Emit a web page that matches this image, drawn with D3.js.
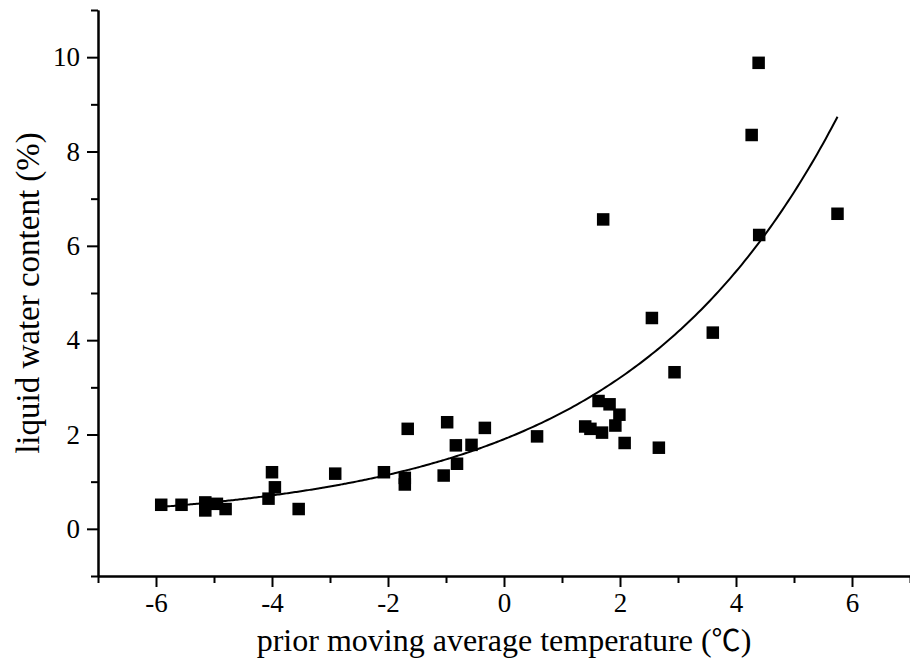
<!DOCTYPE html>
<html>
<head>
<meta charset="utf-8">
<script src="https://cdn.jsdelivr.net/npm/d3@7"></script>
<style>
  body { margin: 0; background: #fff; }
  svg text { font-family: "Liberation Serif", "Times New Roman", serif; fill: #000; }
</style>
</head>
<body>
<svg id="chart"></svg>
<script>
// measured points
var temps = [-5.91, -5.56, -5.15, -5.15, -4.95, -4.80, -4.00, -3.95, -4.06, -3.54,
  -2.91, -2.07, -1.71, -1.71, -1.66, -0.98, -0.83, -0.81, -1.04, -0.56, -0.33,
  0.57, 1.40, 1.49, 1.63, 1.82, 1.99, 1.92, 1.69, 2.08, 2.67,
  1.71, 2.55, 3.60, 2.94, 4.27, 4.39, 5.75, 4.40];
var lwc = [0.51, 0.51, 0.56, 0.39, 0.53, 0.42, 1.20, 0.88, 0.64, 0.42,
  1.17, 1.20, 1.08, 0.94, 2.12, 2.26, 1.77, 1.38, 1.13, 1.78, 2.14,
  1.96, 2.17, 2.12, 2.71, 2.64, 2.42, 2.19, 2.04, 1.82, 1.72,
  6.56, 4.47, 4.16, 3.32, 8.35, 9.88, 6.68, 6.23];

// exponential fit y = y0 + A*exp(b*x)
var fitY0 = 0.11, fitA = 1.79, fitB = 0.2735;
var fitRange = [-5.9, 5.75];

var xMajor = [-6, -4, -2, 0, 2, 4, 6];
var xMinor = [-7, -5, -3, -1, 1, 3, 5, 7];
var yMajor = [0, 2, 4, 6, 8, 10];
var yMinor = [-1, 1, 3, 5, 7, 9, 11];

var width = 910, height = 662;
var margin = {top: 10, right: 0, bottom: 86, left: 98};

var svg = d3.select("#chart").attr("width", width).attr("height", height);

var x = d3.scaleLinear().domain([-7, 7]).range([margin.left, width - margin.right]);
var y = d3.scaleLinear().domain([-1, 11]).range([height - margin.bottom, margin.top]);

function styleAxis(g) {
  g.attr("font-family", null).attr("font-size", null);
  g.select(".domain").attr("stroke", "#000").attr("stroke-width", 2);
  g.selectAll(".tick line").attr("stroke", "#000").attr("stroke-width", 2);
  g.selectAll(".tick text")
    .style("font-family", "'Liberation Serif', serif")
    .style("font-size", "27px");
}

// minor ticks first, then major with labels
svg.append("g")
  .attr("transform", "translate(0," + y(-1) + ")")
  .call(d3.axisBottom(x).tickValues(xMinor).tickSize(7).tickFormat("").tickSizeOuter(0))
  .call(styleAxis);
svg.append("g")
  .attr("transform", "translate(0," + y(-1) + ")")
  .call(d3.axisBottom(x).tickValues(xMajor).tickSize(11).tickPadding(6).tickSizeOuter(0)
    .tickFormat(d => d < 0 ? "-" + Math.abs(d) : d))
  .call(styleAxis);

svg.append("g")
  .attr("transform", "translate(" + x(-7) + ",0)")
  .call(d3.axisLeft(y).tickValues(yMinor).tickSize(7).tickFormat("").tickSizeOuter(0))
  .call(styleAxis);
svg.append("g")
  .attr("transform", "translate(" + x(-7) + ",0)")
  .call(d3.axisLeft(y).tickValues(yMajor).tickSize(11).tickPadding(7).tickSizeOuter(0))
  .call(styleAxis);

// fit curve
var curvePts = d3.range(fitRange[0], fitRange[1] + 0.001, 0.05).map(t => [t, fitY0 + fitA * Math.exp(fitB * t)]);
svg.append("path")
  .datum(curvePts)
  .attr("fill", "none")
  .attr("stroke", "#000")
  .attr("stroke-width", 2)
  .attr("d", d3.line().x(d => x(d[0])).y(d => y(d[1])).curve(d3.curveBasis));

// squares
var sq = 12.5;
svg.append("g").selectAll("rect")
  .data(temps.map((t, i) => [t, lwc[i]]))
  .join("rect")
  .attr("x", d => x(d[0]) - sq / 2)
  .attr("y", d => y(d[1]) - sq / 2)
  .attr("width", sq)
  .attr("height", sq)
  .attr("fill", "#000");

// axis titles
var xt = svg.append("text")
  .attr("x", (x(-7) + x(7)) / 2)
  .attr("y", 651)
  .attr("text-anchor", "middle")
  .style("font-size", "32px");
xt.append("tspan").text("prior moving average temperature (");
xt.append("tspan").style("font-family", "'Noto Sans CJK SC'").style("font-size", "29px").text("℃");
xt.append("tspan").text(")");

svg.append("text")
  .attr("transform", "translate(39," + (y(-1) + y(11)) / 2 + ") rotate(-90)")
  .attr("text-anchor", "middle")
  .style("font-size", "33px")
  .text("liquid water content (%)");
</script>
</body>
</html>
